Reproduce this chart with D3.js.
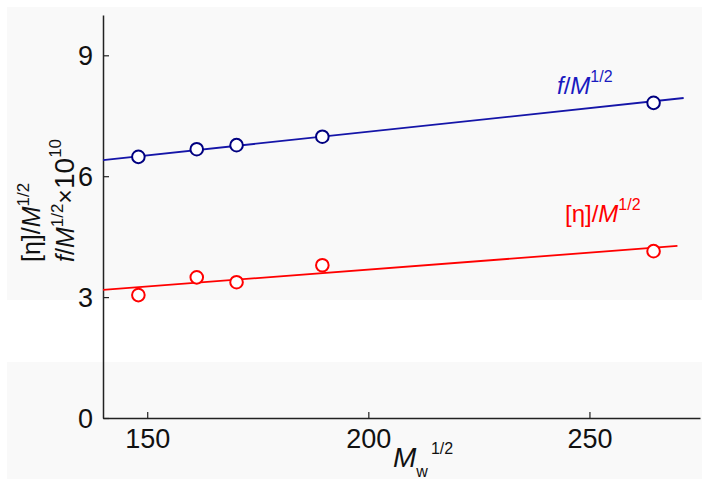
<!DOCTYPE html>
<html>
<head>
<meta charset="utf-8">
<script src="https://cdn.jsdelivr.net/npm/d3@7"></script>
<style>
  html,body{margin:0;padding:0;background:#fff;}
  svg{display:block;font-family:"Liberation Sans",Arial,sans-serif;}
</style>
</head>
<body>
<div id="chart"></div>
<script>
// data
const mw = [148, 161.2, 170.2, 189.6, 264.5];
const fM = [6.48, 6.67, 6.77, 6.98, 7.82];
const etaM = [3.05, 3.49, 3.37, 3.79, 4.14];
// fitted lines: [x0, y0, x1, y1]
const fFit = [140, 6.40, 271.3, 7.94];
const etaFit = [140, 3.18, 269.9, 4.27];
const xTicks = [150, 200, 250];
const yTicks = [0, 3, 6, 9];

(function(){
  const W = 702, H = 479;
  const svg = d3.select("#chart").append("svg")
      .attr("width", W).attr("height", H);

  // faint backdrop like the source image
  svg.append("rect").attr("x",7).attr("y",7).attr("width",W-7).attr("height",H-7).attr("fill","#f9f9f9");
  svg.append("rect").attr("x",7).attr("y",300).attr("width",W-7).attr("height",62).attr("fill","#fff");

  const x = d3.scaleLinear().domain([140, 275]).range([103, 700]);
  const y = d3.scaleLinear().domain([0, 10]).range([418, 15]);

  const blue = "#000080", blueLine = "#1515a8", red = "#ff0000";

  // axes
  const xAxis = svg.append("g").attr("transform","translate(0,418)")
    .call(d3.axisBottom(x).tickValues(xTicks).tickSizeInner(-6).tickSizeOuter(0).tickFormat(d3.format("d")));
  xAxis.selectAll("text").attr("y",30).attr("dy",0).attr("font-size",27).attr("fill","#111").attr("font-family",null);

  const yAxis = svg.append("g").attr("transform","translate(103,0)")
    .call(d3.axisLeft(y).tickValues(yTicks).tickSizeInner(-6).tickSizeOuter(0).tickFormat(d3.format("d")));
  yAxis.selectAll("text").attr("x",-10).attr("dy","0.35em").attr("font-size",27).attr("fill","#111").attr("font-family",null);

  svg.selectAll(".domain").attr("stroke","#222").attr("stroke-width",1.5);
  svg.selectAll(".tick line").attr("stroke","#222").attr("stroke-width",1.2);

  // fitted lines
  const lines = [{fit:fFit, c:blueLine}, {fit:etaFit, c:red}];
  svg.selectAll("line.fit").data(lines).join("line").attr("class","fit")
    .attr("x1",d=>x(d.fit[0])).attr("y1",d=>y(d.fit[1]))
    .attr("x2",d=>x(d.fit[2])).attr("y2",d=>y(d.fit[3]))
    .attr("stroke",d=>d.c).attr("stroke-width",1.8);

  // points
  const series = [{v:fM, c:blue}, {v:etaM, c:red}];
  series.forEach(s=>{
    svg.selectAll(null).data(mw.map((m,i)=>[m, s.v[i]])).join("circle")
      .attr("cx",d=>x(d[0])).attr("cy",d=>y(d[1])).attr("r",6.3)
      .attr("fill","#fff").attr("stroke",s.c).attr("stroke-width",2);
  });

  // series labels
  const fl = svg.append("text").attr("x",557).attr("y",94).attr("font-size",24).attr("fill","#1a1ac0");
  fl.append("tspan").attr("font-style","italic").text("f");
  fl.append("tspan").text("/");
  fl.append("tspan").attr("font-style","italic").text("M");
  fl.append("tspan").attr("font-size",16).attr("dy",-12).text("1/2");

  const el = svg.append("text").attr("x",565).attr("y",222).attr("font-size",24).attr("fill",red);
  el.append("tspan").text("[\u03b7]/");
  el.append("tspan").attr("font-style","italic").text("M");
  el.append("tspan").attr("font-size",16).attr("dy",-12).text("1/2");

  // y axis title, two rotated lines
  const y1 = svg.append("text").attr("transform","translate(40,262) rotate(-90)").attr("font-size",25).attr("fill","#111");
  y1.append("tspan").text("[\u03b7]/");
  y1.append("tspan").attr("font-style","italic").text("M");
  y1.append("tspan").attr("font-size",17).attr("dy",-11).text("1/2");

  const y2 = svg.append("text").attr("transform","translate(74,262) rotate(-90)").attr("font-size",25).attr("fill","#111");
  y2.append("tspan").attr("font-style","italic").text("f");
  y2.append("tspan").text("/");
  y2.append("tspan").attr("font-style","italic").text("M");
  y2.append("tspan").attr("font-size",17).attr("dy",-11).text("1/2");
  y2.append("tspan").attr("dy",11).text("\u00d7");
  y2.append("tspan").attr("font-size",28).text("10");
  y2.append("tspan").attr("font-size",17).attr("dy",-13).text("10");

  // x axis title
  const xl = svg.append("text").attr("x",393).attr("y",467).attr("font-size",28).attr("fill","#111");
  xl.append("tspan").attr("font-style","italic").text("M");
  xl.append("tspan").attr("font-size",16).attr("dy",10).text("w");
  xl.append("tspan").attr("font-size",16).attr("dx",3).attr("dy",-23).text("1/2");
})();
</script>
</body>
</html>
